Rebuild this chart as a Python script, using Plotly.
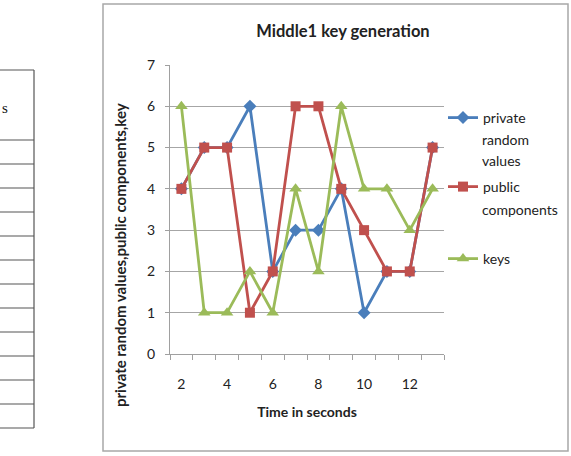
import plotly.graph_objects as go

# ---- data ----
seconds = [2, 3, 4, 5, 6, 7, 8, 9, 10, 11, 12, 13]
private_random_values = [4, 5, 5, 6, 2, 3, 3, 4, 1, 2, 2, 5]
public_components = [4, 5, 5, 1, 2, 6, 6, 4, 3, 2, 2, 5]
keys = [6, 1, 1, 2, 1, 4, 2, 6, 4, 4, 3, 4]
x_tick_vals = [2, 4, 6, 8, 10, 12]
y_tick_vals = [0, 1, 2, 3, 4, 5, 6, 7]

W, H = 571, 456
L, R, T, B = 170, 444, 65, 354  # plot area in pixels


def px(x):
    return (x - L) / (R - L)


def py(y):
    return (B - y) / (B - T)


FONT = "Lato"
BLUE, RED, GREEN = "#4A7EBB", "#C0504D", "#9BBB59"

fig = go.Figure()
fig.add_trace(go.Scatter(x=seconds, y=private_random_values, name="private",
                         mode="lines+markers", line=dict(color=BLUE, width=2.8),
                         marker=dict(symbol="diamond", size=10, color=BLUE),
                         legend="legend", showlegend=True))
fig.add_trace(go.Scatter(x=seconds, y=public_components, name="public",
                         mode="lines+markers", line=dict(color=RED, width=2.8),
                         marker=dict(symbol="square", size=10, color=RED),
                         legend="legend2", showlegend=True))
fig.add_trace(go.Scatter(x=seconds, y=keys, name="keys",
                         mode="lines+markers", line=dict(color=GREEN, width=2.8),
                         marker=dict(symbol="triangle-up", size=11, color=GREEN),
                         legend="legend3", showlegend=True))

LEGFS = 14
leg_common = dict(xref="paper", yref="paper", xanchor="left", yanchor="middle",
                  font=dict(family=FONT, size=LEGFS, color="#222"), visible=True,
                  bgcolor="rgba(0,0,0,0)", itemwidth=30)
legx = px(443)

shapes = []
# outer chart border
shapes.append(dict(type="rect", xref="paper", yref="paper",
                   x0=px(103), x1=px(568), y0=py(451), y1=py(4),
                   line=dict(color="#A8A8A8", width=1.5), layer="below"))
# table fragment on the left
tcol = "#555555"
shapes.append(dict(type="line", xref="paper", yref="paper",
                   x0=px(34), x1=px(34), y0=py(70), y1=py(428),
                   line=dict(color=tcol, width=1.2)))
for yy in [70, 140] + [164 + 24 * i for i in range(12)]:
    shapes.append(dict(type="line", xref="paper", yref="paper",
                       x0=px(-2), x1=px(34), y0=py(yy), y1=py(yy),
                       line=dict(color=tcol, width=1.2)))

ann = [
    dict(text="random", x=px(480), y=py(139)),
    dict(text="values", x=px(480), y=py(160)),
    dict(text="components", x=px(480), y=py(209)),
]
annotations = []
for a in ann:
    annotations.append(dict(text=a["text"], x=a["x"], y=a["y"], xref="paper", yref="paper",
                            xanchor="left", yanchor="middle", showarrow=False,
                            font=dict(family=FONT, size=LEGFS, color="#222")))
annotations.append(dict(text="s", x=px(0), y=py(108), xref="paper", yref="paper",
                        xanchor="left", yanchor="middle", showarrow=False,
                        font=dict(family="Liberation Serif", size=15, color="#111")))
# y-axis title (Excel centres it on the chart area, not the plot)
annotations.append(dict(text="<b>private random values,public components,key</b>",
                        x=px(120), y=py(255), xref="paper", yref="paper",
                        xanchor="center", yanchor="middle", textangle=-90, showarrow=False,
                        font=dict(family=FONT, size=15, color="#222")))

fig.update_layout(
    width=W, height=H,
    margin=dict(l=L, r=W - R, t=T, b=H - B, pad=0),
    paper_bgcolor="white", plot_bgcolor="white",
    showlegend=True,
    font=dict(family=FONT, size=13, color="#222"),
    title=dict(text="<b>Middle1 key generation</b>", xref="paper", x=px(343), xanchor="center",
               y=1 - 31 / H, yanchor="middle",
               font=dict(family=FONT, size=16.5, color="#222")),
    legend=dict(leg_common, x=legx, y=py(118)),
    legend2=dict(leg_common, x=legx, y=py(187)),
    legend3=dict(leg_common, x=legx, y=py(259)),
    shapes=shapes,
    annotations=annotations,
    xaxis=dict(range=[1.5, 13.5], tickvals=x_tick_vals, ticks="", showgrid=False,
               showline=True, linecolor="#A0A0A0", linewidth=1.3, zeroline=False,
               tickfont=dict(family=FONT, size=14, color="#222"), ticklabelstandoff=17,
               minor=dict(ticks="outside", ticklen=5, tick0=1.5, dtick=1,
                          tickcolor="#A0A0A0", showgrid=False),
               title=dict(text="<b>Time in seconds</b>", standoff=16,
                          font=dict(family=FONT, size=14, color="#222"))),
    yaxis=dict(range=[0, 7], tickvals=y_tick_vals, ticks="outside", ticklen=4,
               tickcolor="#A0A0A0", showgrid=True, gridcolor="#A6A6A6", gridwidth=1.3,
               showline=True, linecolor="#A0A0A0", linewidth=1.3, zeroline=False,
               tickfont=dict(family=FONT, size=14, color="#222"), ticklabelstandoff=7),
)

fig.write_html("out.html")
